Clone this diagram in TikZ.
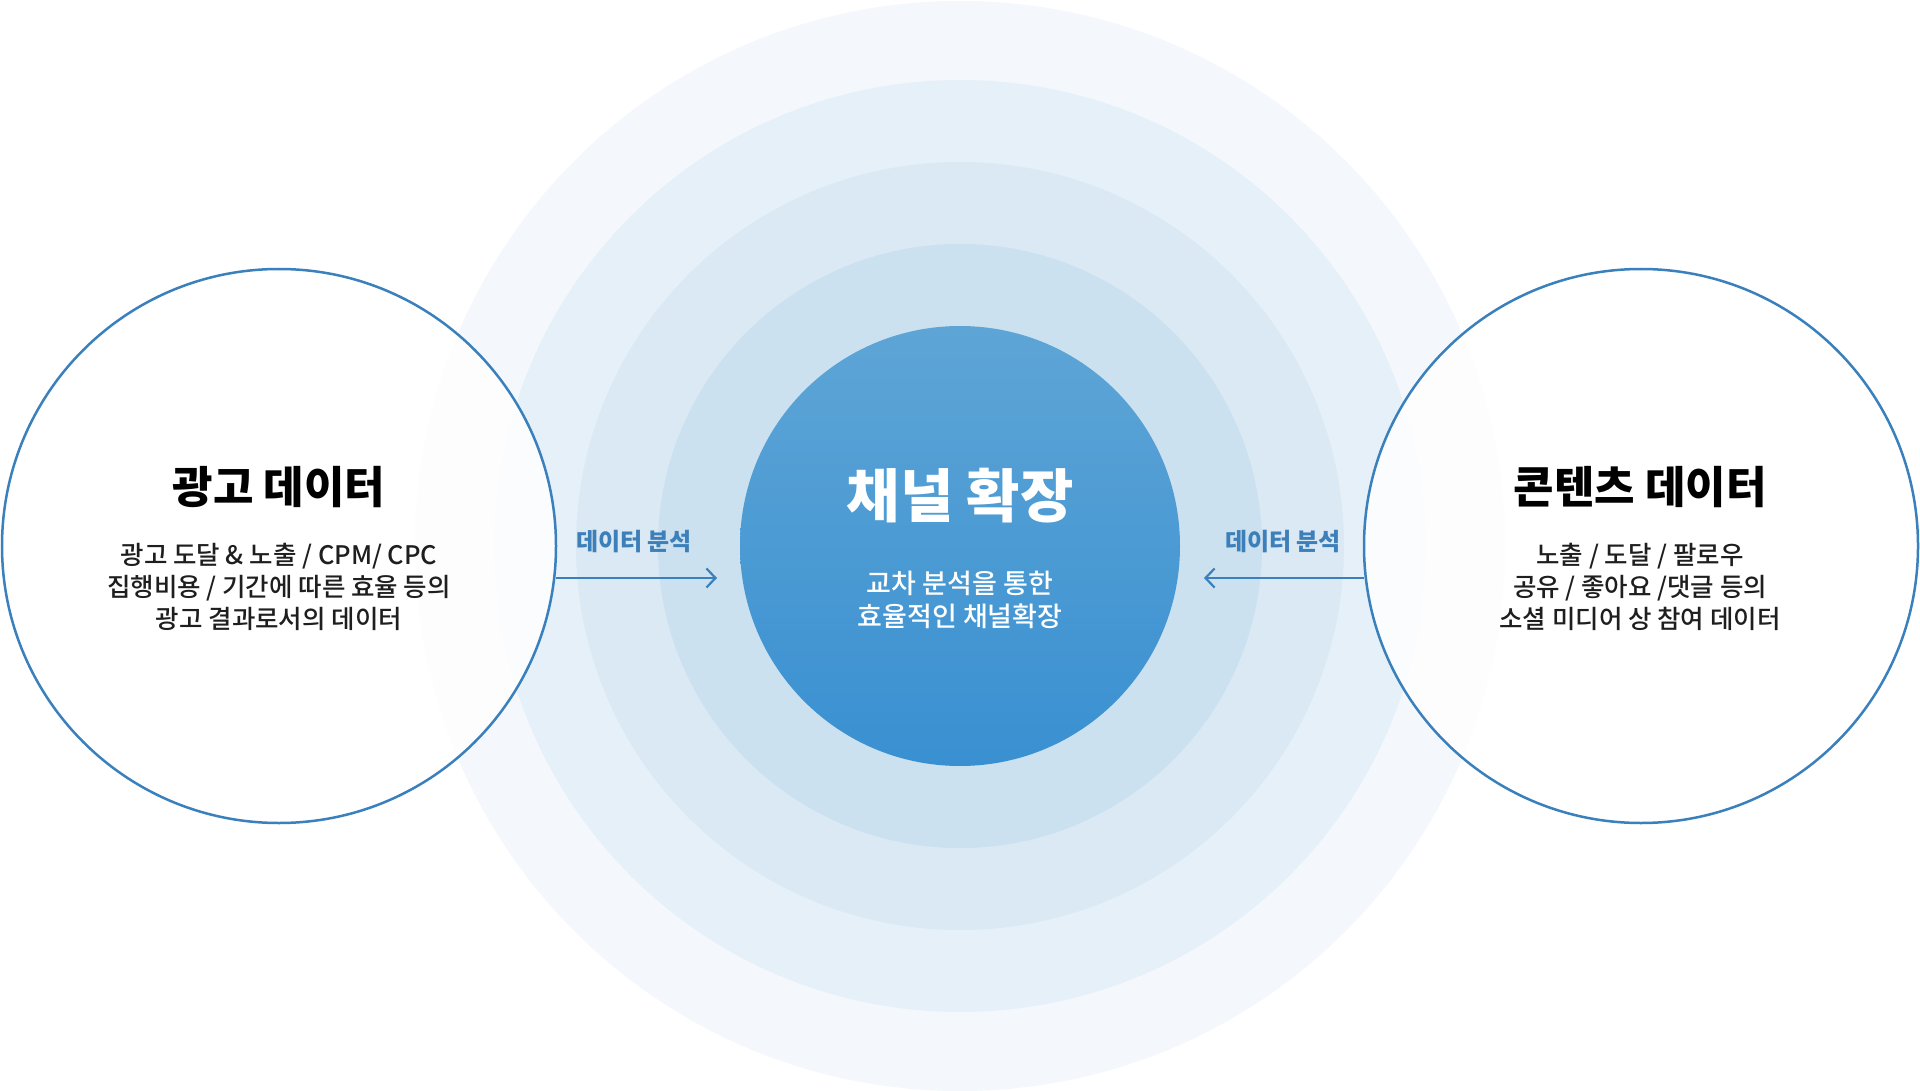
\documentclass[tikz,border=0pt]{standalone}
\usepackage{fontspec}
\setmainfont{Noto Sans CJK KR}
\newfontfamily\medfont{Noto Sans CJK KR}[UprightFont=* Medium]
\usetikzlibrary{arrows.meta}
\definecolor{ringA}{HTML}{F4F8FC}
\definecolor{ringB}{HTML}{E6F0F9}
\definecolor{ringC}{HTML}{DAE9F4}
\definecolor{ringD}{HTML}{CCE1F0}
\definecolor{coreTop}{HTML}{5EA5D6}
\definecolor{coreBot}{HTML}{3990D1}
\definecolor{lineblue}{HTML}{3A80BD}
\definecolor{labelblue}{HTML}{3D7FB9}
\definecolor{bodytext}{HTML}{1E1E1E}
\tikzset{
  side/.style={circle, draw=lineblue, line width=2.5pt, fill=white, fill opacity=0.85, minimum size=554pt, inner sep=0pt, outer sep=0pt},
  corecircle/.style={circle, minimum size=440pt, inner sep=0pt, top color=coreTop, bottom color=coreBot, draw=none},
  titletext/.style={font=\fontsize{44}{50}\selectfont\bfseries, text=black},
  bodytextstyle/.style={font=\fontsize{25.5}{32}\medfont, text=bodytext, align=center},
  coretitle/.style={font=\fontsize{58}{64}\selectfont\bfseries, text=white},
  coresub/.style={font=\fontsize{27}{33}\medfont, text=white, align=center},
  arrlabel/.style={font=\fontsize{24}{28}\selectfont\bfseries, text=labelblue},
  arr/.style={draw=lineblue, line width=2.2pt, -{Straight Barb[length=9pt,width=19pt,line width=2.2pt]}}
}
\begin{document}
\begin{tikzpicture}[x=1pt,y=-1pt]
\useasboundingbox (0,0) rectangle (1920,1091);
\fill[white] (0,0) rectangle (1920,1091);
\coordinate (c) at (960,546);
\fill[ringA] (c) circle (545);
\fill[ringB] (c) circle (466);
\fill[ringC] (c) circle (384);
\fill[ringD] (c) circle (302);
\node[corecircle] (core) at (c) {};
\node[coretitle] (coreT) at (960,496) {채널 확장};
\node[coresub] (coreS) at (960,600) {교차 분석을 통한\\효율적인 채널확장};

\node[side] (lc) at (279,546) {};
\node[side] (rc) at (1641,546) {};

\node[titletext] (lt) at (279,487) {광고 데이터};
\node[bodytextstyle] (lb) at (279,587) {광고 도달 \& 노출 / CPM/ CPC\\집행비용 / 기간에 따른 효율 등의\\광고 결과로서의 데이터};
\node[titletext] (rt) at (1640,487) {콘텐츠 데이터};
\node[bodytextstyle] (rb) at (1640,587) {노출 / 도달 / 팔로우\\공유 / 좋아요 /댓글 등의\\소셜 미디어 상 참여 데이터};

\node[arrlabel] (l1) at (634,542) {데이터 분석};
\node[arrlabel] (l2) at (1283,542) {데이터 분석};
\coordinate (a1) at (717,578);
\coordinate (a2) at (1204,578);
\draw[arr] (lc.east |- a1) -- (a1);
\draw[arr] (rc.west |- a2) -- (a2);
\end{tikzpicture}
\end{document}
